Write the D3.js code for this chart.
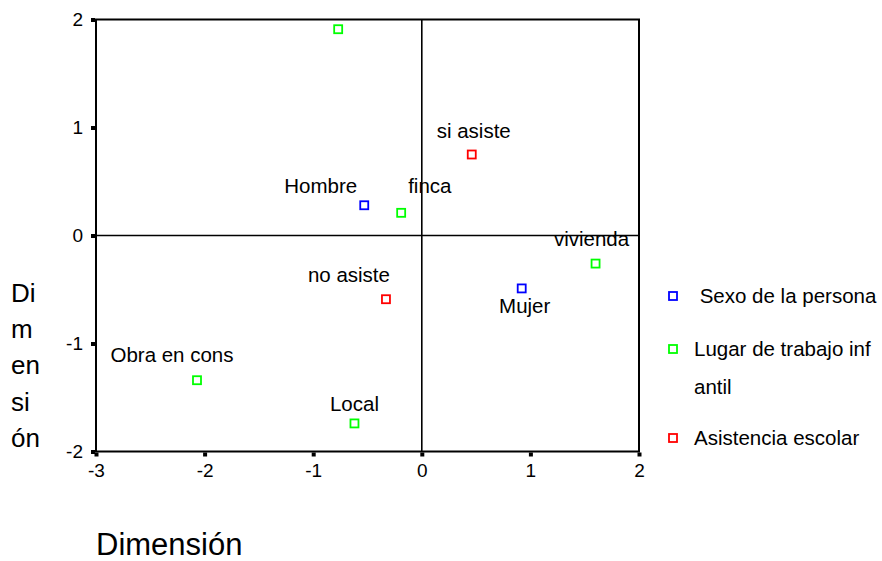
<!DOCTYPE html>
<html>
<head>
<meta charset="utf-8">
<script src="https://cdn.jsdelivr.net/npm/d3@7"></script>
<style>
  body { margin: 0; background: #fff; }
  svg text { font-family: "Liberation Sans", Arial, sans-serif; fill: #000; }
</style>
</head>
<body>
<svg id="chart" width="882" height="561"></svg>
<script>
// categorie e coordinate (dimensione 1, dimensione 2)
const names = ["Hombre", "Mujer", "", "finca", "vivienda", "Obra en cons", "Local", "si asiste", "no asiste"];
const series = [0, 0, 1, 1, 1, 1, 1, 2, 2];
const dim1 = [-0.53, 0.92, -0.77, -0.19, 1.60, -2.07, -0.62, 0.46, -0.33];
const dim2 = [0.28, -0.49, 1.91, 0.21, -0.26, -1.34, -1.74, 0.75, -0.59];
const seriesNames = [" Sexo de la persona", "Lugar de trabajo inf|antil", "Asistencia escolar"];
const xTicks = [-3, -2, -1, 0, 1, 2];
const yTicks = [-2, -1, 0, 1, 2];

// posizione delle etichette rispetto al punto (pixel)
const labelOffset = [
  [-7, -12, "end"], [3, 25, "middle"], [0, 0, "middle"], [7, -20, "start"],
  [-4, -18, "middle"], [-25, -18, "middle"], [0, -12, "middle"],
  [2, -17, "middle"], [4, -17, "end"]
];
const colors = ["#0000ff", "#00ff00", "#ff0000"];

const svg = d3.select("#chart");
const x = d3.scaleLinear().domain([-3, 2]).range([96, 639]);
const y = d3.scaleLinear().domain([-2, 2]).range([451.5, 19.5]);
const fmt = v => String(v);  // trattino semplice, senza decimali

// cornice
svg.append("rect")
  .attr("x", x(-3)).attr("y", y(2))
  .attr("width", x(2) - x(-3)).attr("height", y(-2) - y(2))
  .attr("fill", "none").attr("stroke", "#000").attr("stroke-width", 2);

// linee dello zero
svg.append("line")
  .attr("x1", x(0)).attr("x2", x(0)).attr("y1", y(2)).attr("y2", y(-2))
  .attr("stroke", "#000").attr("stroke-width", 1.6);
svg.append("line")
  .attr("x1", x(-3)).attr("x2", x(2)).attr("y1", y(0)).attr("y2", y(0))
  .attr("stroke", "#000").attr("stroke-width", 1.6);

// assi
const xAxis = svg.append("g")
  .attr("transform", `translate(0,${y(-2) + 1})`)
  .call(d3.axisBottom(x).tickValues(xTicks).tickFormat(fmt).tickSize(4).tickSizeOuter(0).tickPadding(7));
const yAxis = svg.append("g")
  .attr("transform", `translate(${x(-3) - 1},0)`)
  .call(d3.axisLeft(y).tickValues(yTicks).tickFormat(fmt).tickSize(4).tickSizeOuter(0).tickPadding(8));

[xAxis, yAxis].forEach(a => {
  a.select(".domain").remove();
  a.selectAll(".tick line").attr("stroke", "#000").attr("stroke-width", 4);
  a.selectAll(".tick text")
    .style("font-family", "'Liberation Sans', Arial, sans-serif")
    .style("font-size", "19px").attr("fill", "#000");
});
yAxis.selectAll(".tick text").attr("dy", "0.3em");

// punti
svg.append("g").selectAll("rect")
  .data(names.map((n, i) => i))
  .enter().append("rect")
  .attr("x", i => x(dim1[i]) - 4)
  .attr("y", i => y(dim2[i]) - 4)
  .attr("width", 8).attr("height", 8)
  .attr("fill", "#fff")
  .attr("stroke", i => colors[series[i]])
  .attr("stroke-width", 1.8);

// etichette
svg.append("g").selectAll("text")
  .data(names.map((n, i) => i))
  .enter().append("text")
  .attr("x", i => x(dim1[i]) + labelOffset[i][0])
  .attr("y", i => y(dim2[i]) + labelOffset[i][1])
  .attr("text-anchor", i => labelOffset[i][2])
  .style("font-size", "20.5px")
  .text(i => names[i]);

// titoli degli assi
svg.append("text")
  .attr("x", 96).attr("y", 555)
  .style("font-size", "31px")
  .text("Dimensión");

const yTitle = svg.append("text").attr("x", 11).style("font-size", "26px");
["Di", "m", "en", "si", "ón"].forEach((t, i) => {
  yTitle.append("tspan").attr("x", 11).attr("y", 302 + i * 36.2).text(t);
});

// legenda
const legendY = [296, 349, 438];
seriesNames.forEach((s, i) => {
  svg.append("rect")
    .attr("x", 669).attr("y", legendY[i] - 4)
    .attr("width", 8).attr("height", 8)
    .attr("fill", "#fff").attr("stroke", colors[i]).attr("stroke-width", 1.8);
  const t = svg.append("text").style("font-size", "20.5px");
  s.split("|").forEach((line, j) => {
    t.append("tspan").attr("x", 694).attr("y", legendY[i] + 7 + j * 38)
      .attr("xml:space", "preserve").style("white-space", "pre").text(line);
  });
});
</script>
</body>
</html>
